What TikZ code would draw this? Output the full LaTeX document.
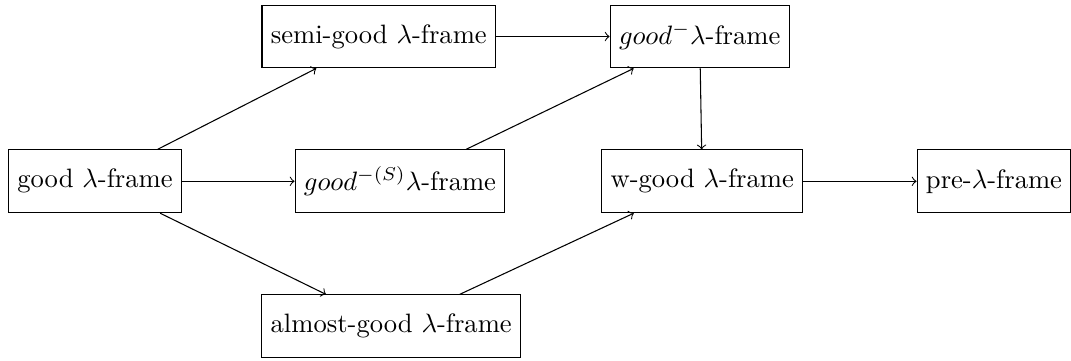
\documentclass[tikz,border=0pt]{standalone}
\begin{document}
\begin{tikzpicture}[x=0.376pt,y=-0.376pt,
  frame/.style={draw,rectangle,minimum height=23.6pt,inner sep=3.333pt},
  arr/.style={->}]
\useasboundingbox (0,0) rectangle (1071,360);
\node[frame] (good) at (95,181.3) {good $\lambda$-frame};
\node[frame] (semi) at (378.8,36.5) {semi-good $\lambda$-frame};
\node[frame] (gS) at (400,181.3) {$good^{-(S)}\lambda$-frame};
\node[frame] (almost) at (391.2,326.3) {almost-good $\lambda$-frame};
\node[frame] (gm) at (699.7,36.5) {$good^-\lambda$-frame};
\node[frame] (wg) at (702.2,181.3) {w-good $\lambda$-frame};
\node[frame] (pre) at (994,181.3) {pre-$\lambda$-frame};
\draw[arr] (good) -- (semi);
\draw[arr] (good) -- (gS);
\draw[arr] (good) -- (almost);
\draw[arr] (semi) -- (gm);
\draw[arr] (gS) -- (gm);
\draw[arr] (gm) -- (wg);
\draw[arr] (almost) -- (wg);
\draw[arr] (wg) -- (pre);
\end{tikzpicture}
\end{document}
